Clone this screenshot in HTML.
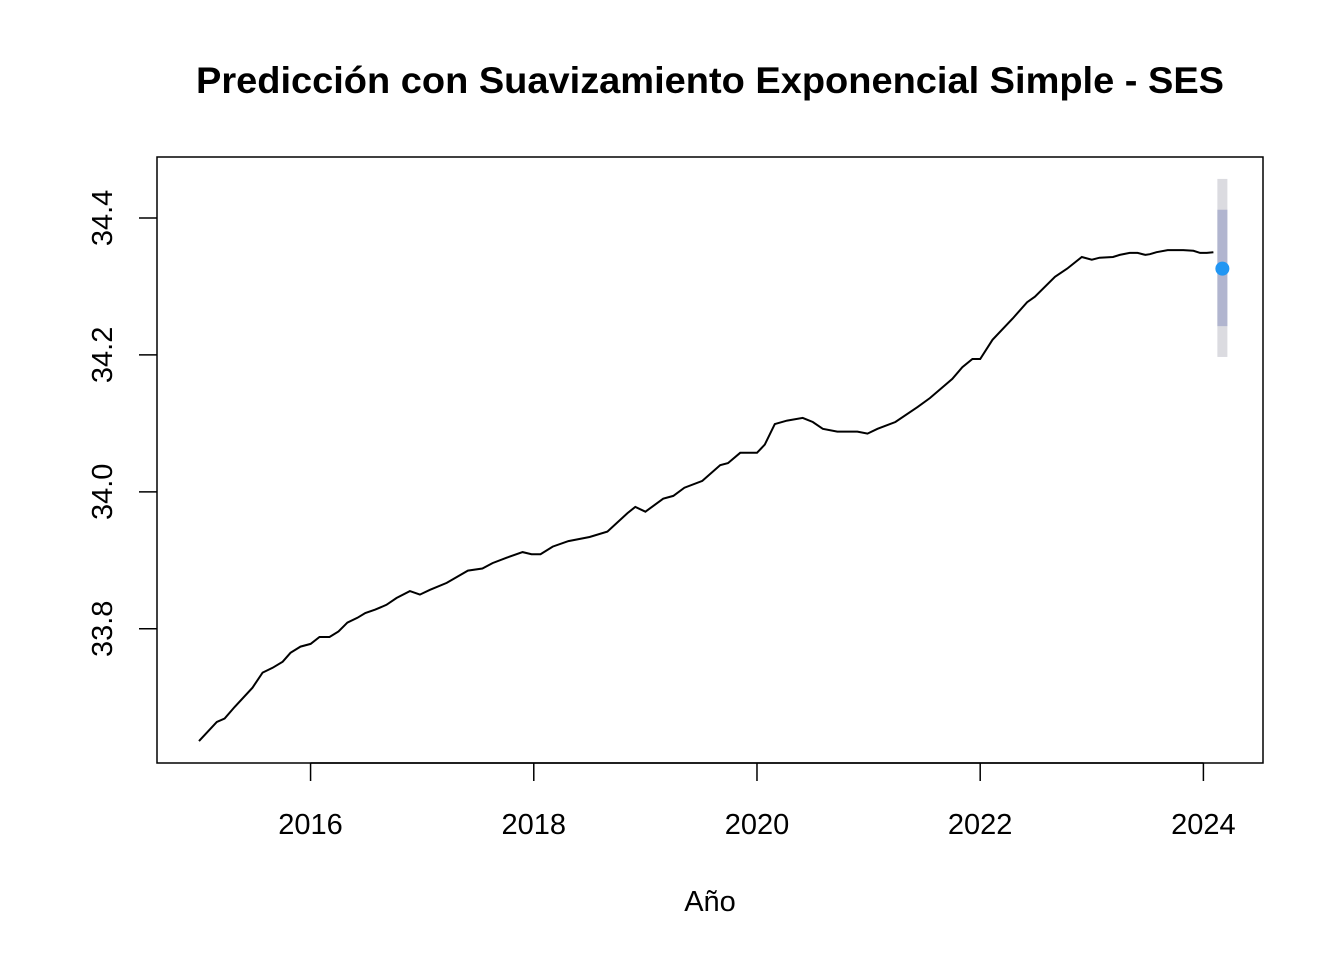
<!DOCTYPE html>
<html><head><meta charset="utf-8"><style>body{margin:0;background:#fff}svg{display:block}</style></head>
<body>
<svg id="chart" width="1344" height="960" font-family="Liberation Sans, Arial, sans-serif">
<rect width="1344" height="960" fill="#fff"/>
<text x="710" y="93" text-anchor="middle" font-size="37" font-weight="bold" textLength="1028" lengthAdjust="spacingAndGlyphs">Predicción con Suavizamiento Exponencial Simple - SES</text>
<text x="710" y="911" text-anchor="middle" font-size="29">Año</text>
<g id="axes"></g>
<g id="marks"></g>
<rect x="157" y="157" width="1106" height="606" fill="none" stroke="#000" stroke-width="1.5"/>
</svg>
<script>
const years=[2015.00,2015.16,2015.23,2015.32,2015.48,2015.57,2015.66,2015.75,2015.82,2015.91,2016.00,2016.08,2016.17,2016.25,2016.33,2016.42,2016.49,2016.58,2016.68,2016.77,2016.89,2016.98,2017.07,2017.22,2017.41,2017.54,2017.63,2017.76,2017.90,2017.98,2018.06,2018.17,2018.31,2018.50,2018.66,2018.84,2018.91,2019.00,2019.16,2019.25,2019.35,2019.51,2019.67,2019.74,2019.85,2020.00,2020.07,2020.16,2020.27,2020.41,2020.50,2020.59,2020.72,2020.90,2020.99,2021.08,2021.24,2021.44,2021.55,2021.75,2021.84,2021.93,2022.00,2022.11,2022.29,2022.42,2022.49,2022.67,2022.78,2022.91,2023.00,2023.07,2023.19,2023.25,2023.34,2023.41,2023.48,2023.52,2023.58,2023.68,2023.82,2023.91,2023.97,2024.03,2024.09];
const values=[33.636,33.664,33.669,33.686,33.714,33.736,33.743,33.752,33.765,33.774,33.778,33.788,33.788,33.796,33.809,33.816,33.823,33.828,33.835,33.845,33.855,33.850,33.857,33.867,33.885,33.888,33.896,33.904,33.912,33.909,33.909,33.920,33.928,33.934,33.942,33.969,33.978,33.971,33.990,33.994,34.006,34.016,34.039,34.042,34.057,34.057,34.069,34.099,34.104,34.108,34.102,34.092,34.088,34.088,34.085,34.092,34.102,34.124,34.137,34.165,34.182,34.194,34.194,34.222,34.253,34.277,34.285,34.314,34.326,34.343,34.339,34.342,34.343,34.346,34.349,34.349,34.346,34.347,34.350,34.353,34.353,34.352,34.349,34.349,34.350];
const forecastYear=[2024.17];
const forecastMean=[34.326];
const lo80=[34.242], hi80=[34.412];
const lo95=[34.197], hi95=[34.457];
const xTicks=[2016,2018,2020,2022,2024];
const yTicks=[33.8,34.0,34.2,34.4];
const yTickLabels=["33.8","34.0","34.2","34.4"];

const X0=157,X1=1263,Y0=763,Y1=157;
const xMin=2014.624,xMax=2024.534,yMin=33.604,yMax=34.489;
const xs=v=>X0+(v-xMin)/(xMax-xMin)*(X1-X0);
const ys=v=>Y0-(v-yMin)/(yMax-yMin)*(Y0-Y1);
const NS="http://www.w3.org/2000/svg";
function mk(tag,attrs,parent){const e=document.createElementNS(NS,tag);for(const k in attrs)e.setAttribute(k,attrs[k]);parent.appendChild(e);return e;}
const axes=document.getElementById('axes'),marks=document.getElementById('marks');

mk('line',{x1:xs(xTicks[0]),x2:xs(xTicks[xTicks.length-1]),y1:763,y2:763,stroke:'#000','stroke-width':1.5},axes);
xTicks.forEach(t=>{
  const l=mk('line',{x1:xs(t),x2:xs(t),y1:763,y2:781,stroke:'#000','stroke-width':1.5},axes);
  
  
  const tx=mk('text',{x:xs(t),y:834,'text-anchor':'middle','font-size':29},axes);
  tx.textContent=t;
  
  
});
yTicks.forEach((t,i)=>{
  const l=mk('line',{x1:139,x2:157,y1:ys(t),y2:ys(t),stroke:'#000','stroke-width':1.5},axes);
  
  
  const tx=mk('text',{x:0,y:0,'text-anchor':'middle','font-size':29,transform:`translate(112,${ys(t)}) rotate(-90)`},axes);
  tx.textContent=yTickLabels[i];
  
  
});

forecastYear.forEach((fy,i)=>{
  const b95=mk('rect',{x:xs(fy)-5,width:10,y:ys(hi95[i]),height:ys(lo95[i])-ys(hi95[i]),fill:'#dbdbe0'},marks);
  
  
  const b80=mk('rect',{x:xs(fy)-5,width:10,y:ys(hi80[i]),height:ys(lo80[i])-ys(hi80[i]),fill:'#b1b5cf'},marks);
  
  
});
const pts=years.map((y,i)=>xs(y).toFixed(1)+','+ys(values[i]).toFixed(1)).join(' ');
const pl=mk('polyline',{points:pts,fill:'none',stroke:'#000','stroke-width':2},marks);


forecastYear.forEach((fy,i)=>{
  const c=mk('circle',{cx:xs(fy),cy:ys(forecastMean[i]),r:7,fill:'#2196f3'},marks);
  
  
});
</script>
</body></html>
